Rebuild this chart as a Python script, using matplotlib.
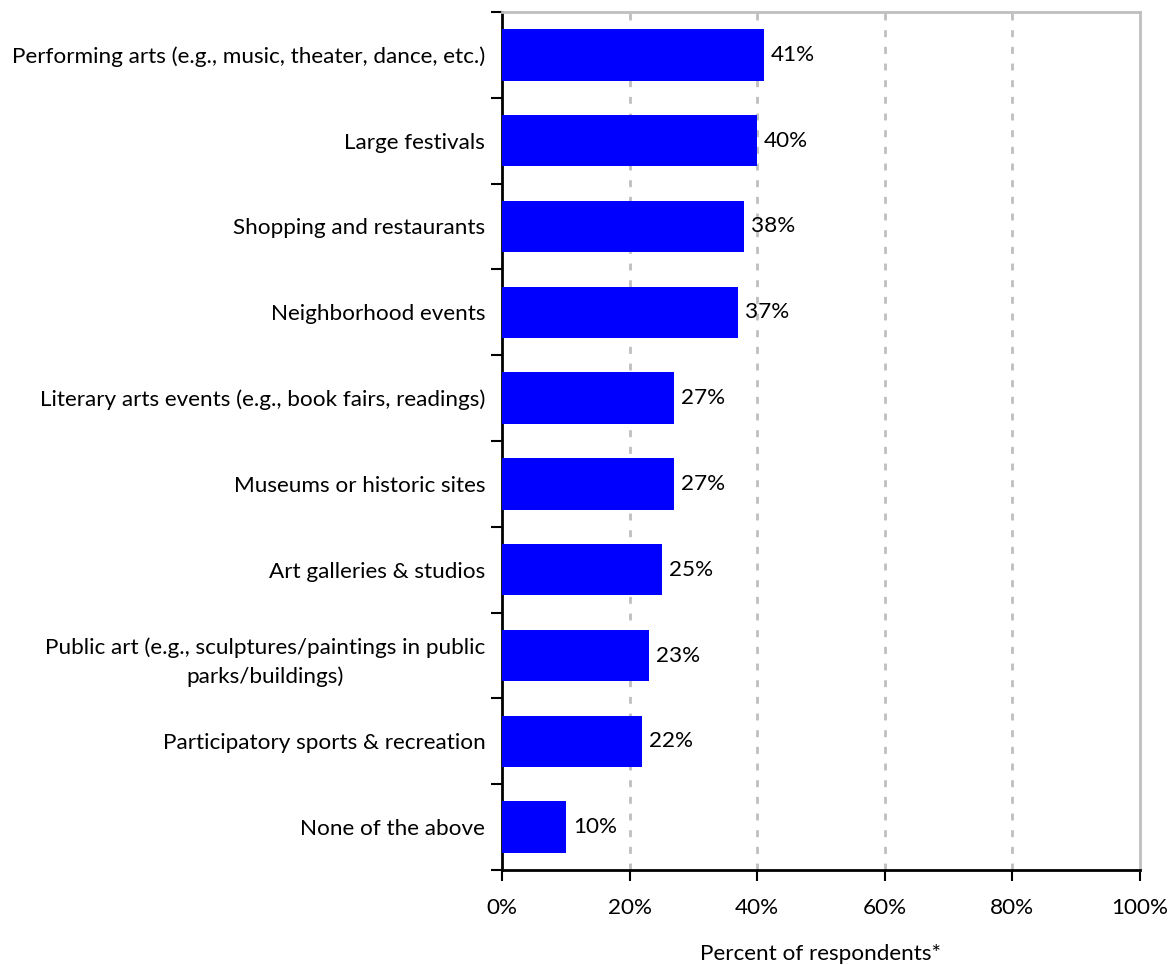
import matplotlib
matplotlib.use("Agg")
import matplotlib.pyplot as plt
from matplotlib.ticker import FixedLocator, PercentFormatter

categories = [
    "Performing arts (e.g., music, theater, dance, etc.)",
    "Large festivals",
    "Shopping and restaurants",
    "Neighborhood events",
    "Literary arts events (e.g., book fairs, readings)",
    "Museums or historic sites",
    "Art galleries & studios",
    "Public art (e.g., sculptures/paintings in public\nparks/buildings)",
    "Participatory sports & recreation",
    "None of the above",
]
values = [41, 40, 38, 37, 27, 27, 25, 23, 22, 10]
x_ticks = [0, 20, 40, 60, 80, 100]

plt.rcParams["font.family"] = ["Lato", "DejaVu Sans"]
FS = 16.2

fig = plt.figure(figsize=(11.74, 9.65), dpi=100)
ax = fig.add_axes([502 / 1174, 1 - 870 / 965, (1140 - 502) / 1174, (870 - 12) / 965])

n = len(categories)
ypos = list(range(n))
ax.barh(ypos, values, height=0.6, color="#0000FF", zorder=3)
ax.set_ylim(n - 0.5, -0.5)
ax.set_xlim(0, 100)

for y, v in zip(ypos, values):
    ax.text(v + 1.1, y, f"{v}%", va="center", ha="left", fontsize=FS, color="black")

ax.set_yticks(ypos)
ax.set_yticklabels(categories, fontsize=FS, multialignment="center", linespacing=1.55)
ax.tick_params(axis="y", which="major", length=0, pad=12)
ax.yaxis.set_minor_locator(FixedLocator([i - 0.5 for i in range(n + 1)]))
ax.tick_params(axis="y", which="minor", length=8, width=1.5, direction="out", color="black")

ax.set_xticks(x_ticks)
ax.xaxis.set_major_formatter(PercentFormatter(decimals=0))
ax.tick_params(axis="x", which="major", length=8, width=1.5, direction="out", pad=12, labelsize=FS)
ax.set_xlabel("Percent of respondents*", fontsize=FS, labelpad=19)

for x in x_ticks[1:-1]:
    ax.axvline(x, color="#BFBFBF", linewidth=2, linestyle=(0, (2.5, 3.5)), zorder=1)

for side in ("left", "bottom"):
    ax.spines[side].set_color("black")
    ax.spines[side].set_linewidth(2)
for side in ("top", "right"):
    ax.spines[side].set_color("#BFBFBF")
    ax.spines[side].set_linewidth(2)

fig.savefig("out.png", dpi=100)
